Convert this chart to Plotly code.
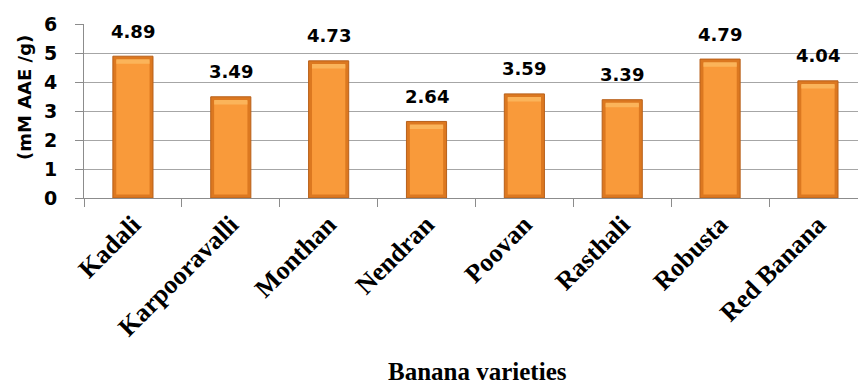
import plotly.graph_objects as go

varieties = ["Kadali", "Karpooravalli", "Monthan", "Nendran",
             "Poovan", "Rasthali", "Robusta", "Red Banana"]
activity = [4.89, 3.49, 4.73, 2.64, 3.59, 3.39, 4.79, 4.04]
value_labels = ["4.89", "3.49", "4.73", "2.64", "3.59", "3.39", "4.79", "4.04"]
y_ticks = [0, 1, 2, 3, 4, 5, 6]

W, H = 858, 385
left, top, bottom = 84, 24, 187
cat_px = 97.86
plot_w = W - left
x_max = -0.5 + plot_w / cat_px

# bevel geometry (in data units)
rim = 0.12
inner_base = [rim] * len(activity)
inner_len = [v - 2.2 * rim for v in activity]
cap_base = [v - 2.2 * rim for v in activity]
cap_len = [rim * 1.3] * len(activity)

fig = go.Figure()
# darker rim of each bar
fig.add_trace(go.Bar(
    x=varieties, y=activity, width=0.41,
    marker=dict(color="#DC7820", line=dict(color="#B8601A", width=1)),
    hoverinfo="skip", showlegend=False,
))
# lighter face
fig.add_trace(go.Bar(
    x=varieties, y=inner_len, base=inner_base, width=0.34,
    marker=dict(color="#F99A3A", line=dict(width=0)),
    hoverinfo="skip", showlegend=False,
))
# highlight under the top edge
fig.add_trace(go.Bar(
    x=varieties, y=cap_len, base=cap_base, width=0.34,
    marker=dict(color="#FBB45A", line=dict(width=0)),
    hoverinfo="skip", showlegend=False,
))

for name, v, lab in zip(varieties, activity, value_labels):
    fig.add_annotation(
        x=name, y=v, text=lab, showarrow=False, yanchor="middle", yshift=25,
        font=dict(family="DejaVu Sans", size=18, color="black", weight="bold"),
    )

fig.add_annotation(
    xref="paper", yref="paper", x=(477 - left) / plot_w, y=(198 - 371) / 174,
    text="Banana varieties", showarrow=False, xanchor="center", yanchor="middle",
    font=dict(family="Liberation Serif", size=25, color="black", weight="bold"),
)
fig.add_annotation(
    xref="paper", yref="paper", x=(24 - left) / plot_w, y=(198 - 98) / 174,
    text="(mM AAE /g)", textangle=-90, showarrow=False,
    xanchor="center", yanchor="middle",
    font=dict(family="DejaVu Sans", size=18, color="black", weight="bold"),
)

fig.update_layout(
    width=W, height=H, barmode="overlay",
    margin=dict(l=left, r=0, t=top, b=bottom),
    paper_bgcolor="white", plot_bgcolor="white",
    xaxis=dict(
        type="category", range=[-0.5, x_max], tickson="boundaries",
        ticks="outside", ticklen=8, tickcolor="#8C8C8C",
        showline=True, linecolor="#8C8C8C", linewidth=1, showgrid=False,
        tickangle=-45,
        tickfont=dict(family="Liberation Serif", size=26, color="black", weight="bold"),
    ),
    yaxis=dict(
        range=[0, 6], tickvals=y_ticks, ticks="outside", ticklen=8,
        tickcolor="#8C8C8C", showline=True, linecolor="#8C8C8C", linewidth=1,
        showgrid=True, gridcolor="#A6A6A6", gridwidth=1, zeroline=False,
        ticklabelstandoff=14,
        tickfont=dict(family="DejaVu Sans", size=19, color="black", weight="bold"),
    ),
)

fig.write_html("out.html")
